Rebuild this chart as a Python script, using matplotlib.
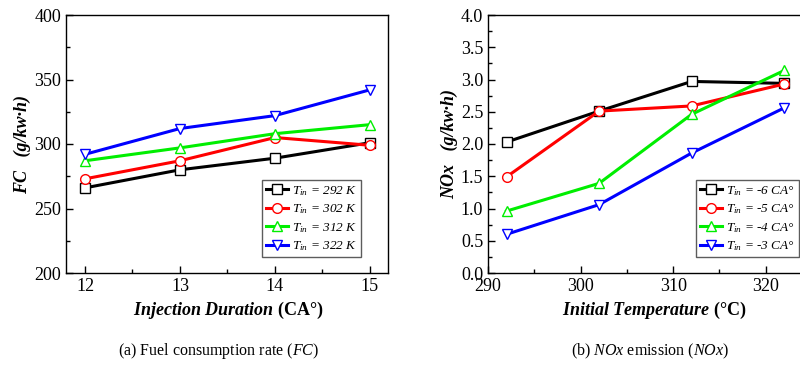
import matplotlib
matplotlib.use('Agg')
import matplotlib.pyplot as plt
from matplotlib.ticker import MultipleLocator

plt.rcParams['font.family'] = ['Liberation Serif', 'DejaVu Serif']
plt.rcParams['mathtext.fontset'] = 'custom'
plt.rcParams['mathtext.rm'] = 'Liberation Serif'
plt.rcParams['mathtext.it'] = 'Liberation Serif:italic'
plt.rcParams['mathtext.bf'] = 'Liberation Serif:bold'
plt.rcParams['mathtext.bfit'] = 'Liberation Serif:bold:italic'

# (a) fuel consumption vs injection duration
duracion = [12, 13, 14, 15]
fc_292 = [266, 280, 289, 301]
fc_302 = [273, 287, 305, 299]
fc_312 = [287, 297, 308, 315]
fc_322 = [292, 312, 322, 342]
etiquetas_a = ['292 K', '302 K', '312 K', '322 K']

# (b) NOx vs initial temperature
temperatura = [292, 302, 312, 322]
nox_6 = [2.03, 2.51, 2.97, 2.94]
nox_5 = [1.49, 2.51, 2.59, 2.93]
nox_4 = [0.96, 1.39, 2.46, 3.14]
nox_3 = [0.60, 1.06, 1.86, 2.56]
etiquetas_b = ['-6 CA°', '-5 CA°', '-4 CA°', '-3 CA°']

colores = ['#000000', '#ff0000', '#00ee00', '#0000ff']
marcadores = ['s', 'o', '^', 'v']

fig = plt.figure(figsize=(8, 3.66), dpi=100)
W, H = 800, 366
ax1 = fig.add_axes([66 / W, 1 - 273 / H, (388 - 66) / W, (273 - 15) / H])
ax2 = fig.add_axes([488 / W, 1 - 273 / H, (812 - 488) / W, (273 - 15) / H])


def dibujar(ax, x, series, etiquetas, ancla):
    for y, lab, c, m in zip(series, etiquetas, colores, marcadores):
        ax.plot(x, y, color=c, marker=m, markersize=7, markerfacecolor='white',
                markeredgecolor=c, markeredgewidth=1.0, linewidth=2.2,
                label=r'$T_{in}$ = ' + lab)
    leg = ax.legend(loc='lower right', bbox_to_anchor=ancla,
                    prop={'style': 'italic', 'size': 9.5},
                    frameon=True, fancybox=False, edgecolor='#333333',
                    handlelength=1.7, handletextpad=0.3, labelspacing=0.35,
                    borderpad=0.3, borderaxespad=0.0)
    leg.get_frame().set_linewidth(1.0)
    ax.tick_params(which='both', direction='in', labelsize=13, top=False, right=False)
    ax.tick_params(which='major', length=5, width=1)
    ax.tick_params(which='minor', length=3, width=1)
    for s in ax.spines.values():
        s.set_linewidth(1.0)


dibujar(ax1, duracion, [fc_292, fc_302, fc_312, fc_322], etiquetas_a, (0.916, 0.062))
ax1.set_xlim(11.8, 15.19)
ax1.set_ylim(200, 400)
ax1.xaxis.set_major_locator(MultipleLocator(1))
ax1.xaxis.set_minor_locator(MultipleLocator(0.5))
ax1.yaxis.set_major_locator(MultipleLocator(50))
ax1.yaxis.set_minor_locator(MultipleLocator(25))
ax1.set_ylabel('FC   (g/kw·h)', fontsize=13, fontweight='bold', fontstyle='italic', labelpad=2)

dibujar(ax2, temperatura, [nox_6, nox_5, nox_4, nox_3], etiquetas_b, (0.96, 0.062))
ax2.set_xlim(290, 325)
ax2.set_ylim(0, 4)
ax2.xaxis.set_major_locator(MultipleLocator(10))
ax2.xaxis.set_minor_locator(MultipleLocator(5))
ax2.yaxis.set_major_locator(MultipleLocator(0.5))
ax2.yaxis.set_minor_locator(MultipleLocator(0.25))
ax2.yaxis.set_major_formatter(matplotlib.ticker.FormatStrFormatter('%.1f'))
ax2.set_ylabel('NOx   (g/kw·h)', fontsize=13, fontweight='bold', fontstyle='italic', labelpad=2)

# etiquetas del eje x y leyendas de figura
fig.text(228 / W, 1 - 310 / H, r'$\mathbfit{Injection\ Duration}$' + ' (CA°)',
         ha='center', va='center', fontsize=13, fontweight='bold')
fig.text(654 / W, 1 - 310 / H, r'$\mathbfit{Initial\ Temperature}$' + ' (°C)',
         ha='center', va='center', fontsize=13, fontweight='bold')
fig.text(219 / W, 1 - 351 / H, r'(a) Fuel consumption rate ($FC$)',
         ha='center', va='center', fontsize=11.5)
fig.text(650 / W, 1 - 351 / H, r'(b) $NOx$ emission ($NOx$)',
         ha='center', va='center', fontsize=11.5)

fig.savefig('out.png', dpi=100)
